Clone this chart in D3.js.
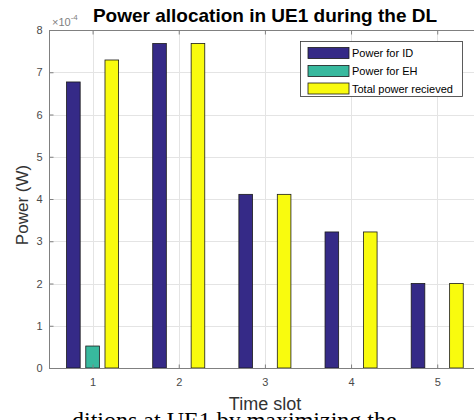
<!DOCTYPE html>
<html>
<head>
<meta charset="utf-8">
<script src="https://cdn.jsdelivr.net/npm/d3@7"></script>
<style>
  html, body { margin: 0; padding: 0; background: #fff; overflow: hidden; }
  svg { display: block; }
</style>
</head>
<body>
<svg id="chart" width="474" height="420"></svg>
<script>
// ---- data ----
const slots = [1, 2, 3, 4, 5];
const powerID = [6.77e-4, 7.68e-4, 4.11e-4, 3.22e-4, 2.00e-4];
const powerEH = [0.52e-4, 0, 0, 0, 0];
const totalPower = [7.29e-4, 7.68e-4, 4.11e-4, 3.22e-4, 2.00e-4];
const seriesNames = ["Power for ID", "Power for EH", "Total power recieved"];
const seriesColors = ["#352a87", "#38b99e", "#f9fb0e"];
const yTicks = [0, 1e-4, 2e-4, 3e-4, 4e-4, 5e-4, 6e-4, 7e-4, 8e-4];
const xTicks = [1, 2, 3, 4, 5];
const titleText = "Power allocation in UE1 during the DL";
const xLabel = "Time slot";
const yLabel = "Power (W)";
const captionText = "ditions at UE1 by maximizing the";

// ---- layout ----
const svg = d3.select("#chart");
const plotL = 49, plotT = 30, plotB = 368, plotR = 474;
const x = d3.scaleLinear().domain([0.5, 5.5]).range([49.5, 480.3]);
const y = d3.scaleLinear().domain([0, 8e-4]).range([plotB, plotT]);

const series = [powerID, powerEH, totalPower];
const offsets = [-0.223, 0, 0.223];
const barW = 0.158;

// grid
const grid = svg.append("g");
grid.selectAll("line.gy").data(yTicks.slice(1)).enter().append("line")
  .attr("x1", plotL).attr("x2", plotR)
  .attr("y1", d => Math.round(y(d)) + 0.5).attr("y2", d => Math.round(y(d)) + 0.5)
  .attr("stroke", "#e4e4e4").attr("stroke-width", 1);
grid.selectAll("line.gx").data(xTicks).enter().append("line")
  .attr("x1", d => Math.round(x(d)) + 0.5).attr("x2", d => Math.round(x(d)) + 0.5)
  .attr("y1", plotT).attr("y2", plotB)
  .attr("stroke", "#e4e4e4").attr("stroke-width", 1);

// bars
series.forEach((vals, si) => {
  svg.append("g").selectAll("rect").data(slots).enter().append("rect")
    .attr("x", (d, i) => x(d + offsets[si] - barW / 2))
    .attr("width", x(1 + barW) - x(1))
    .attr("y", (d, i) => y(vals[i]))
    .attr("height", (d, i) => y(0) - y(vals[i]))
    .attr("fill", seriesColors[si])
    .attr("stroke", "#1a1a1a").attr("stroke-width", 0.8)
    .attr("display", (d, i) => vals[i] > 0 ? null : "none");
});

// axes
const axisColor = "#808080";
const yAxis = d3.axisLeft(y).tickValues(yTicks).tickSizeInner(-4).tickSizeOuter(0)
  .tickPadding(7).tickFormat(d => d3.format("d")(Math.round(d * 1e4)));
const gy = svg.append("g").attr("transform", `translate(${plotL + 0.5},0)`).call(yAxis);
const xAxis = d3.axisBottom(x).tickValues(xTicks).tickSizeInner(-4).tickSizeOuter(0)
  .tickPadding(10).tickFormat(d3.format("d"));
const gx = svg.append("g").attr("transform", `translate(0,${plotB + 0.5})`).call(xAxis);
const xTop = d3.axisTop(x).tickValues(xTicks).tickSizeInner(-4).tickSizeOuter(0).tickFormat("");
const gt = svg.append("g").attr("transform", `translate(0,${plotT + 0.5})`).call(xTop);

[gy, gx, gt].forEach(g => {
  g.select(".domain").remove();
  g.selectAll(".tick line").attr("stroke", axisColor);
  g.selectAll(".tick text").attr("fill", "#4a4a4a")
    .style("font-family", "'Liberation Sans', Arial, sans-serif").style("font-size", "11px");
});
svg.append("line").attr("x1", plotL + 0.5).attr("x2", plotL + 0.5).attr("y1", plotT).attr("y2", plotB + 1)
  .attr("stroke", axisColor);
svg.append("line").attr("x1", plotL).attr("x2", plotR).attr("y1", plotB + 0.5).attr("y2", plotB + 0.5)
  .attr("stroke", axisColor);
svg.append("line").attr("x1", plotL).attr("x2", plotR).attr("y1", plotT + 0.5).attr("y2", plotT + 0.5)
  .attr("stroke", axisColor);

// exponent label
const ex = svg.append("text").attr("x", 52).attr("y", 26)
  .attr("fill", "#808080")
  .style("font-family", "'Liberation Sans', Arial, sans-serif").style("font-size", "11px");
ex.append("tspan").text("\u00d710");
ex.append("tspan").attr("dy", -6).style("font-size", "8px").text("-4");

// title
svg.append("text").attr("x", 265).attr("y", 22).attr("text-anchor", "middle")
  .attr("fill", "#000").style("font-weight", "bold")
  .style("font-family", "'Liberation Sans', Arial, sans-serif").style("font-size", "19px")
  .text(titleText);

// axis labels
svg.append("text").attr("x", 265).attr("y", 410).attr("text-anchor", "middle")
  .attr("fill", "#333")
  .style("font-family", "'Liberation Sans', Arial, sans-serif").style("font-size", "18px")
  .text(xLabel);
svg.append("text").attr("transform", "translate(28,205) rotate(-90)").attr("text-anchor", "middle")
  .attr("fill", "#333")
  .style("font-family", "'Liberation Sans', Arial, sans-serif").style("font-size", "17px")
  .text(yLabel);

// legend
const lg = svg.append("g");
lg.append("rect").attr("x", 300.5).attr("y", 41.5).attr("width", 162).attr("height", 55)
  .attr("fill", "#fff").attr("stroke", "#333").attr("stroke-width", 0.8);
const rowsY = [53, 71, 88.5];
seriesNames.forEach((name, i) => {
  lg.append("rect").attr("x", 308).attr("y", rowsY[i] - 5.5).attr("width", 41).attr("height", 11)
    .attr("fill", seriesColors[i]).attr("stroke", "#1a1a1a").attr("stroke-width", 0.8);
  lg.append("text").attr("x", 352).attr("y", rowsY[i] + 4).attr("fill", "#000")
    .style("font-family", "'Liberation Sans', Arial, sans-serif").style("font-size", "11px")
    .text(name);
});

// caption fragment below the figure (cut off by the picture's bottom edge, as in the reference)
svg.append("text").attr("x", 72).attr("y", 428).attr("fill", "#000")
  .style("font-family", "'Liberation Serif', 'Times New Roman', serif").style("font-size", "24px")
  .text(captionText);
</script>
</body>
</html>
